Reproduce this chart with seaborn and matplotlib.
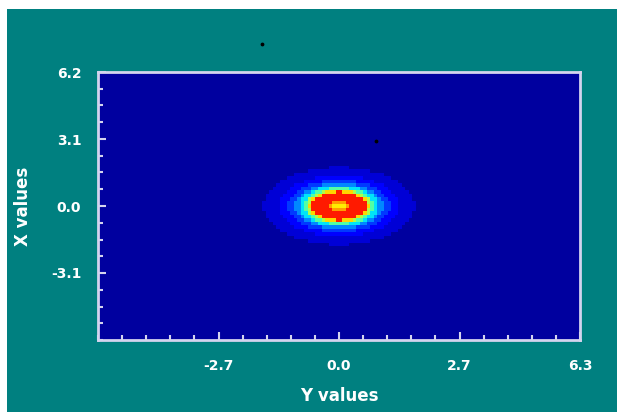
import numpy as np
import pandas as pd
import seaborn as sns
import matplotlib.pyplot as plt
from matplotlib.patches import Rectangle

# data range of the map
x_min, x_max = -5.4, 5.4
y_min, y_max = -6.2, 6.2
n_cols, n_rows = 138, 77

# radial profile: outer radius of each band and its level
band_radius = [0.12, 0.24, 0.62, 0.68, 0.74, 0.80, 0.90, 1.00, 1.15, 1.35, 1.70]
band_level = [0.66, 0.74, 0.88, 0.68, 0.56, 0.45, 0.35, 0.26, 0.18, 0.12, 0.075]
background_level = 0.03

x_ticks = [-2.7, 0.0, 2.7, 5.4]
x_tick_labels = ["-2.7", "0.0", "2.7", "6.3"]
y_ticks = [6.2, 3.1, 0.0, -3.1]
y_tick_labels = ["6.2", "3.1", "0.0", "-3.1"]

# two stray specks in the picture
speck_x = [-1.73, 0.83]
speck_y = [7.49, 3.02]

TEAL = "#008080"
FRAME = "#d4d4ee"


def main() -> None:
    # cell centres, top row first (heatmap puts row 0 at the top)
    xc = x_min + (np.arange(n_cols) + 0.5) * (x_max - x_min) / n_cols
    yc = y_max - (np.arange(n_rows) + 0.5) * (y_max - y_min) / n_rows
    xx, yy = np.meshgrid(xc, yc)
    r = np.sqrt(xx ** 2 + (yy / 1.05) ** 2)
    idx = np.searchsorted(band_radius, r)
    levels = np.array(band_level + [background_level])
    grid = pd.DataFrame(levels[idx])

    def to_col(v):
        return (np.asarray(v) - x_min) / (x_max - x_min) * n_cols

    def to_row(v):
        return (y_max - np.asarray(v)) / (y_max - y_min) * n_rows

    fig = plt.figure(figsize=(6.17, 4.12), dpi=100)
    fig.patch.set_facecolor("white")
    fig.patches.append(Rectangle((7 / 617, 0), 1, 403 / 412,
                                 transform=fig.transFigure,
                                 facecolor=TEAL, edgecolor="none", zorder=-10))
    ax = fig.add_axes([98 / 617, 72 / 412, 482 / 617, 268 / 412])
    ax.set_zorder(5)

    sns.heatmap(grid, cmap="jet", vmin=0, vmax=1, cbar=False, ax=ax,
                xticklabels=False, yticklabels=False, rasterized=True)

    ax.scatter(to_col(speck_x), to_row(speck_y), s=3, color="black",
               clip_on=False, zorder=5)

    ax.set_xlim(0, n_cols)
    ax.set_ylim(n_rows, 0)

    ax.set_xticks(to_col(x_ticks))
    ax.set_xticklabels(x_tick_labels)
    ax.set_xticks(to_col(np.arange(-5.4, 5.41, 0.54)), minor=True)
    ax.set_yticks(to_row(y_ticks))
    ax.set_yticklabels(y_tick_labels)
    ax.set_yticks(to_row(np.arange(-6.2, 6.21, 0.775)), minor=True)

    font = dict(family="DejaVu Sans", weight="bold")
    for lab in ax.get_xticklabels() + ax.get_yticklabels():
        lab.set_fontproperties(font)
        lab.set_fontsize(10)
    ax.tick_params(axis="both", which="both", direction="in", colors=FRAME,
                   labelcolor="white", top=False, right=False)
    ax.tick_params(axis="x", which="major", length=6, width=1.5, pad=14)
    ax.tick_params(axis="y", which="major", length=6, width=1.5, pad=12)
    ax.tick_params(axis="both", which="minor", length=3.5, width=1.5)

    ax.set_xlabel("Y values", color="white", fontsize=12, labelpad=10, **font)
    ax.set_ylabel("X values", color="white", fontsize=12, labelpad=14, **font)

    for side in ax.spines.values():
        side.set_visible(True)
        side.set_color(FRAME)
        side.set_linewidth(2)

    fig.savefig("out.png", dpi=100, facecolor=fig.get_facecolor())
    plt.close(fig)


if __name__ == "__main__":
    main()
